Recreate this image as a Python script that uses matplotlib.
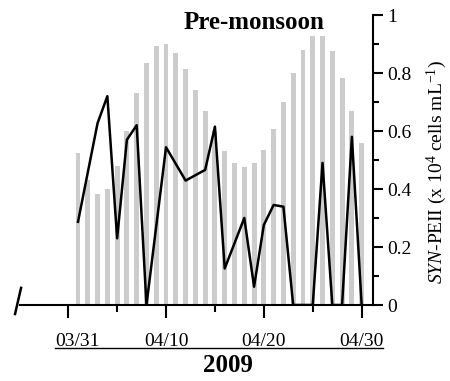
import matplotlib
matplotlib.use("Agg")
import matplotlib.pyplot as plt
import matplotlib.transforms as mtransforms
from matplotlib.lines import Line2D
import numpy as np

plt.rcParams['font.family'] = ['Liberation Serif', 'DejaVu Serif']
plt.rcParams['mathtext.fontset'] = 'custom'
plt.rcParams['mathtext.rm'] = 'Liberation Serif'
plt.rcParams['mathtext.it'] = 'Liberation Serif:italic'

# days counted from 03/31/2009
bar_days = list(range(1, 31))
bar_vals = [0.525, 0.431, 0.383, 0.40, 0.479, 0.60, 0.731, 0.836, 0.893, 0.90,
            0.87, 0.814, 0.741, 0.669, 0.60, 0.531, 0.491, 0.477, 0.491, 0.534,
            0.607, 0.701, 0.799, 0.880, 0.929, 0.929, 0.876, 0.784, 0.670, 0.56]

line_days = [1, 3, 4, 5, 6, 7, 8, 10, 12, 14, 15, 16, 18, 19, 20, 21, 22, 23,
             25, 26, 27, 28, 29, 30]
line_vals = [0.287, 0.627, 0.72, 0.23, 0.57, 0.62, 0.0, 0.544, 0.429, 0.466,
             0.615, 0.126, 0.30, 0.063, 0.276, 0.345, 0.339, 0.0,
             0.0, 0.49, 0.0, 0.0, 0.58, 0.0]

xtick_days = [0, 10, 20, 30]
xtick_labels = ['03/31', '04/10', '04/20', '04/30']
ytick_vals = [0, 0.2, 0.4, 0.6, 0.8, 1.0]
ytick_labels = ['0', '0.2', '0.4', '0.6', '0.8', '1']

W, H = 450, 381
fig = plt.figure(figsize=(W / 100, H / 100), dpi=100)
ax = fig.add_axes([20 / W, 1 - 305 / H, 353 / W, 290 / H])

ax.bar(bar_days, bar_vals, width=0.5, color='#cccccc', zorder=1)
ax.plot(line_days, line_vals, color='black', lw=1.8, zorder=3)

ax.set_xlim(-4.93, 31.16)
ax.set_ylim(0, 1)

for s in ['left', 'top']:
    ax.spines[s].set_visible(False)
for s in ['bottom', 'right']:
    ax.spines[s].set_linewidth(1.5)

ax.yaxis.tick_right()
ax.set_yticks(ytick_vals)
ax.set_yticklabels(ytick_labels, fontsize=14)
ax.set_yticks(np.arange(0.1, 1.0, 0.2), minor=True)
ax.tick_params(axis='y', which='major', direction='out', length=7, width=1.5, pad=3)
ax.tick_params(axis='y', which='minor', direction='out', length=4, width=1.5)

ax.set_xticks(xtick_days)
ax.set_xticklabels([])
ax.set_xticks([5, 15, 25], minor=True)
ax.tick_params(axis='x', which='major', direction='out', length=9.5, width=1.5)
ax.tick_params(axis='x', which='minor', direction='out', length=5, width=1.5)

# date labels (underlined as one row)
trans = mtransforms.blended_transform_factory(ax.transData, fig.transFigure)
shift = [0.9, 0, 0, 0]
for d, lab, sh in zip(xtick_days, xtick_labels, shift):
    ax.text(d + sh, 1 - 345.7 / H, lab, transform=trans, ha='center',
            va='baseline', fontsize=14)
fig.add_artist(Line2D([55 / W, 383 / W], [1 - 348 / H, 1 - 348 / H],
                      color='black', lw=1.0, transform=fig.transFigure))
fig.text(227.5 / W, 1 - 372 / H, '2009', ha='center', va='baseline',
         fontsize=18, fontweight='bold')

# axis break mark at the left end
ax.add_artist(Line2D([-0.014, 0.003], [-0.031, 0.059], color='black', lw=1.8,
                     transform=ax.transAxes, clip_on=False))

fig.text(254 / W, 1 - 29 / H, 'Pre-monsoon', ha='center', va='baseline',
         fontsize=18, fontweight='bold')
fig.text(437 / W, 1 - 172 / H, r'$\mathit{SYN}$-PEII (x 10$^{4}$ cells mL$^{-1}$)',
         rotation=90, ha='center', va='center', fontsize=14)

fig.savefig('out.png', dpi=100)
